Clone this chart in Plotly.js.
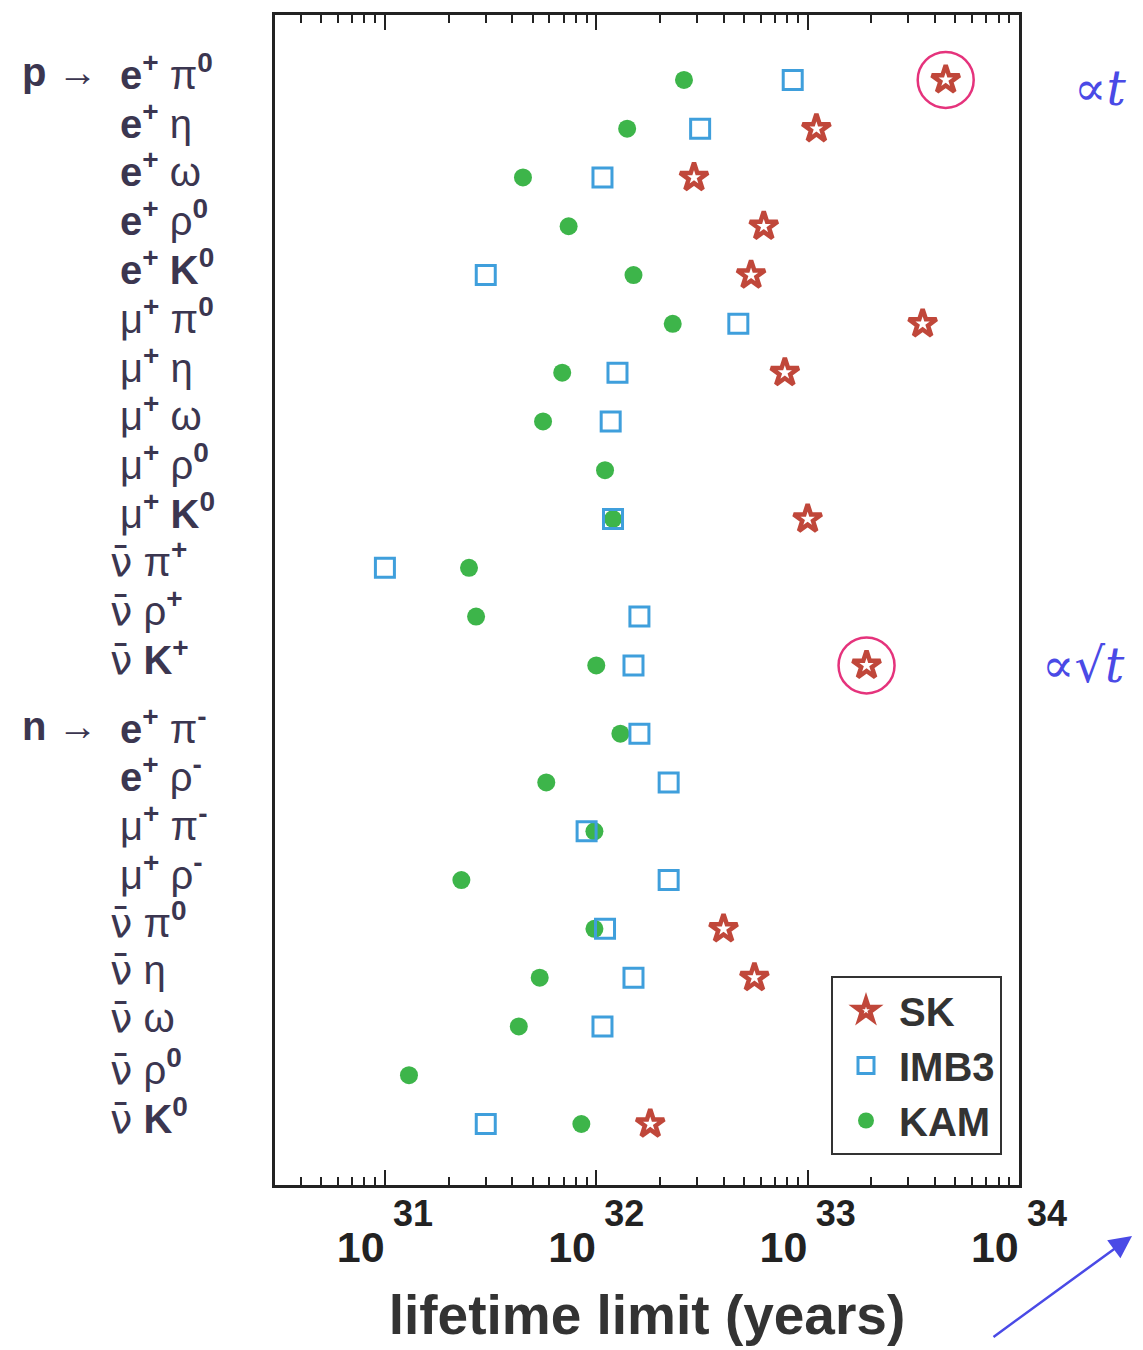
<!DOCTYPE html>
<html>
<head>
<meta charset="utf-8">
<script src="https://cdn.plot.ly/plotly-3.0.1.min.js"></script>
<style>html,body{margin:0;padding:0;background:#fff;}#chart{width:1143px;height:1350px;}</style>
</head>
<body>
<div id="chart"></div>
<script>
// ---- data ----
const nucleon = ['p','p','p','p','p','p','p','p','p','p','p','p','p','n','n','n','n','n','n','n','n','n'];
const lepton  = ['e+','e+','e+','e+','e+','μ+','μ+','μ+','μ+','μ+','ν̄','ν̄','ν̄','e+','e+','μ+','μ+','ν̄','ν̄','ν̄','ν̄','ν̄'];
const meson   = ['π0','η','ω','ρ0','K0','π0','η','ω','ρ0','K0','π+','ρ+','K+','π-','ρ-','π-','ρ-','π0','η','ω','ρ0','K0'];

// lifetime limits (years)
const SK   = [4.5e33, 1.1e33, 2.9e32, 6.2e32, 5.4e32, 3.5e33, 7.8e32, null, null, 1.0e33, null, null, 1.9e33,
              null, null, null, null, 4.0e32, 5.6e32, null, null, 1.8e32];
const IMB3 = [8.5e32, 3.1e32, 1.07e32, null, 3.0e31, 4.7e32, 1.26e32, 1.17e32, null, 1.2e32, 1.0e31, 1.6e32, 1.5e32,
              1.6e32, 2.2e32, 9.0e31, 2.2e32, 1.1e32, 1.5e32, 1.07e32, null, 3.0e31];
const KAM  = [2.6e32, 1.4e32, 4.5e31, 7.4e31, 1.5e32, 2.3e32, 6.9e31, 5.6e31, 1.1e32, 1.2e32, 2.5e31, 2.7e31, 1.0e32,
              1.3e32, 5.8e31, 9.8e31, 2.3e31, 9.8e31, 5.4e31, 4.3e31, 1.3e31, 8.5e31];

const circledSK = [0, 12];            // hand-drawn circles around these SK points
const tickExp   = [31, 32, 33, 34];   // decade labels

// ---- build ----
const yPos = nucleon.map((n, i) => i + (n === 'n' ? 0.4 : 0));

function fmtPart(s) {
  const m = s.match(/^(.*?)([+\-0])$/);
  let base = m ? m[1] : s, ch = m ? m[2] : '';
  let b = (base === 'e' || base === 'K') ? '<b>' + base + '</b>' : base;
  if (base === 'ν̄') b = '<span style="font-family:DejaVu Sans">ν̄</span>';
  return b + (ch ? '<sup><b>' + ch + '</b></sup>' : '');
}

const L = 275, R = 1019, T = 15, B = 1185;
const px = x => (x - L) / (R - L);
const py = y => (B - y) / (B - T);

const annotations = [];
const labFont = {family: 'Liberation Sans, Arial, sans-serif', size: 40, color: '#3b3650'};
nucleon.forEach((n, i) => {
  if (i === 0 || nucleon[i - 1] !== n) {
    annotations.push({xref: 'paper', yref: 'y', x: px(100), y: yPos[i], xanchor: 'right', yanchor: 'middle', yshift: 8,
      text: '<b>' + n + '</b> →', showarrow: false, font: labFont});
  }
  const isNu = lepton[i] === 'ν̄';
  annotations.push({xref: 'paper', yref: 'y', x: px(isNu ? 108 : 118), y: yPos[i], xanchor: 'left', yanchor: 'middle', yshift: 8,
    text: fmtPart(lepton[i]) + ' ' + fmtPart(meson[i]), showarrow: false, font: labFont});
});

// hand-written notes
const hand = {family: 'DejaVu Serif, serif', size: 48, color: '#4a4ae6'};
annotations.push({xref: 'paper', yref: 'paper', x: px(1100), y: py(88), xanchor: 'center', yanchor: 'middle',
  text: '<i>∝t</i>', showarrow: false, font: hand});
annotations.push({xref: 'paper', yref: 'paper', x: px(1083), y: py(665), xanchor: 'center', yanchor: 'middle',
  text: '<i>∝√t</i>', showarrow: false, font: hand});
annotations.push({xref: 'paper', yref: 'paper', x: px(1132), y: py(1236), ax: -140, ay: 102, text: '',
  showarrow: true, arrowhead: 2, arrowsize: 1.8, arrowwidth: 2.5, arrowcolor: '#4a4ae6'});

const minorVals = [];
for (let e = 30; e <= 33; e++) for (let k = 2; k <= 9; k++) minorVals.push(k * Math.pow(10, e));

const traces = [
  {name: 'KAM', x: KAM, y: yPos, type: 'scatter', mode: 'markers',
   marker: {symbol: 'circle', size: 18, color: '#3db54a'}},
  {name: 'IMB3', x: IMB3, y: yPos, type: 'scatter', mode: 'markers',
   marker: {symbol: 'square-open', size: 19, color: '#3f9fdc', line: {width: 3, color: '#3f9fdc'}}},
  {name: 'SK', x: SK, y: yPos, type: 'scatter', mode: 'markers',
   marker: {symbol: 'star-open', size: 21, color: '#c0473a', line: {width: 4.5, color: '#c0473a'}}},
  {name: 'circled', showlegend: false, x: circledSK.map(i => SK[i]), y: circledSK.map(i => yPos[i]),
   type: 'scatter', mode: 'markers',
   marker: {symbol: 'circle-open', size: 56, color: '#e5337c', line: {width: 2.5, color: '#e5337c'}}}
];

const layout = {
  width: 1143, height: 1350,
  margin: {l: L, r: 1143 - R, t: T, b: 1350 - B},
  paper_bgcolor: '#fff', plot_bgcolor: '#fff',
  showlegend: true,
  legend: {x: px(1002), y: py(1155), xanchor: 'right', yanchor: 'bottom', traceorder: 'reversed',
    bgcolor: '#fff', bordercolor: '#333', borderwidth: 2, itemwidth: 56,
    font: {family: 'Liberation Sans, Arial, sans-serif', size: 40, color: '#333', weight: 'bold'}},
  xaxis: {type: 'log', range: [30.48, 34.0],
    tickmode: 'array', tickvals: tickExp.map(e => Math.pow(10, e)),
    ticktext: tickExp.map(e => '10<sup> <span style="font-size:36px;baseline-shift:18px">' + e + '</span></sup>'),
    ticks: 'inside', ticklen: 15, tickwidth: 2, tickcolor: '#222', ticklabelstandoff: 22,
    minor: {tickmode: 'array', tickvals: minorVals, ticks: 'inside', ticklen: 8, tickwidth: 2, tickcolor: '#222'},
    showline: true, linewidth: 3, linecolor: '#222', mirror: 'allticks',
    showgrid: false, zeroline: false,
    tickfont: {family: 'Liberation Sans, Arial, sans-serif', size: 43, color: '#222', weight: 'bold'},
    title: {text: '<b>lifetime limit (years)</b>', standoff: 26,
      font: {family: 'Liberation Sans, Arial, sans-serif', size: 55, color: '#333'}}},
  yaxis: {range: [22.65, -1.33], showticklabels: false, ticks: '', showgrid: false, zeroline: false,
    showline: true, linewidth: 3, linecolor: '#222', mirror: true},
  annotations: annotations
};

Plotly.newPlot('chart', traces, layout, {displayModeBar: false, staticPlot: true});
</script>
</body>
</html>
